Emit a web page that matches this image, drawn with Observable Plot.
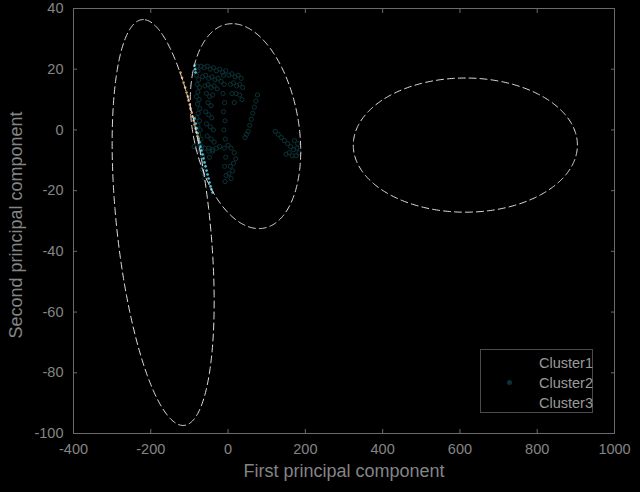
<!DOCTYPE html>
<html>
<head>
<meta charset="utf-8">
<script src="https://cdn.jsdelivr.net/npm/d3@7"></script>
<script src="https://cdn.jsdelivr.net/npm/@observablehq/plot@0.6"></script>
<style>
  html, body { margin: 0; padding: 0; background: #000; }
  #wrap { position: relative; width: 640px; height: 492px; background: #000; overflow: hidden; }
  #legend { position: absolute; left: 480px; top: 349px; width: 113px; height: 64px;
    border: 1px solid #4a4a4a; box-sizing: border-box; font-family: "Liberation Sans", Arial, sans-serif;
    font-size: 14.5px; color: #9a9a9a; }
  #legend .row { position: absolute; left: 58px; height: 20px; line-height: 20px; white-space: nowrap; }
  #legend .mk { position: absolute; width: 5px; height: 5px; border-radius: 50%; }
</style>
</head>
<body>
<div id="wrap"><div id="chart"></div>
<div id="legend"></div></div>
<script>
// ---- data ----
const xTicks = [-400, -200, 0, 200, 400, 600, 800, 1000];
const yTicks = [-100, -80, -60, -40, -20, 0, 20, 40];
const xLabel = "First principal component";
const yLabel = "Second principal component";
const legendNames = ["Cluster1", "Cluster2", "Cluster3"];
const legendColors = ["#000000", "#0c3338", "#000000"];

// ellipses (center, semi-extent in x and y, phase between x and y in degrees)
const ellCx = [-168, 45, 614];
const ellCy = [-30.5, 1.25, -5];
const ellRx = [132, 143, 290];
const ellRy = [66.85, 33.75, 22.1];
const ellPhase = [113, 104, 90];

// Cluster2 points
const c2x = [
  -80,-78,-82,-76,-80,-74,-78,-82,-75,-79,-73,-77,-81,-74,-78,-72,-76,-70,-74,-68,-72,-66,-70,-64,-67,-62,-60,
  -70,-62,-54,-46,-38,-30,-22,-14,-6,-66,-58,-50,-42,-34,-26,-18,-60,-52,-44,-36,-28,-56,-48,-40,-52,-44,
  -58,-50,-42,-56,-46,-38,-54,-44,-36,-50,-40,-48,
  -12,-10,-13,-9,-12,-8,-11,-7,-10,-6,-9,-5,-8,
  2,10,18,26,34,6,14,22,30,38,10,20,30,36,16,
  76,72,68,64,60,56,52,48,44,
  122,130,138,146,154,162,170,178,184,176,166,158,150,172,180,
  0,8,16,20,14,6,12,2,8,
  -88,-80,-70,-60,-50,-40,-30,-22
];
const c2y = [
  21,19.5,18,16.5,15,14,12.5,11,10,8.5,7,5.5,4,3,1.5,0,-1.5,-3,-4.5,-5.5,-7,-8.5,-10,-11.5,-13,-14.5,-16,
  21,20.5,21,20,20.5,19.5,20,19,19.5,17.5,18,17,17.5,16.5,17,16,14.5,15,14,14.5,13.5,12,11,11.5,9,8,
  6,5,4,2,1,0,-2,-3,-4,-6,-7,-9,
  18,15,12,9,6,3,0,-3,-6,-9,-12,-15,-17,
  18,18.5,17.5,18,17,15,15.5,14.5,15,14,12,12,11.5,10,9,
  11.5,9.5,7.5,5.5,3.5,1.5,-0.5,-1.5,-2.5,
  -0.5,-1.5,-2.5,-3.5,-4.5,-5.5,-6.5,-6,-7.5,-8.5,-8.5,-7.5,-8,-3.5,-4.5,
  -5,-6,-7.5,-9.5,-11,-12,-13.5,-14.5,-16,
  -5.5,-6,-6.5,-6,-7,-6.5,-6,-5.5
];
// orange edge points
const orX = [-123,-119,-115.3,-111,-107.5,-104,-102.3,-99,-97.1,-94,-91.9,-89,-86.8,-84,-81.6,-79,-76.4];
const orY = [18.9,17.2,15.6,14,12.3,11,9.7,8.4,7.1,5.7,4.4,3.1,1.8,0.5,-0.8,-2.1,-3.4];
// cyan edge points
const cyX = [-86.8,-85.5,-84.2,-86.8,-84,-81.6,-79,-76.4,-74,-71.3,-69,-66.1,-63.5,-60.9,-58.3,-55.7,-53,-50.5,-48,-45.4,-43,-40.2];
const cyY = [21.2,20,18.9,3.8,2.1,0.5,-1.1,-2.8,-4.1,-5.5,-6.8,-8.1,-9.4,-10.7,-12,-13.4,-14.7,-16,-17.3,-18.6,-19.6,-20.6];

// ---- build ----
const c2 = c2x.map((x, i) => ({x, y: c2y[i]}));
const orange = orX.map((x, i) => ({x, y: orY[i]}));
const cyan = cyX.map((x, i) => ({x, y: cyY[i]}));
const ellPts = [];
ellCx.forEach((cx, k) => {
  const ph = ellPhase[k] * Math.PI / 180;
  for (let j = 0; j <= 360; j++) {
    const t = j * Math.PI / 180;
    ellPts.push({id: k, x: cx + ellRx[k] * Math.cos(t + ph), y: ellCy[k] + ellRy[k] * Math.cos(t)});
  }
});

const lineCol = "#6a6a6a";
const textCol = "#858585";
const fmt = d => String(d);
const chart = Plot.plot({
  width: 640, height: 492,
  marginLeft: 73, marginRight: 26, marginTop: 8, marginBottom: 59,
  style: {background: "#000", color: textCol, fontFamily: "'Liberation Sans', Arial, sans-serif", fontSize: "14.5px"},
  x: {domain: [-400, 1000]},
  y: {domain: [-100, 40]},
  marks: [
    Plot.frame({stroke: lineCol}),
    Plot.axisX(xTicks, {anchor: "bottom", tickSize: -4, tickPadding: 14, tickFormat: fmt, stroke: lineCol, fill: textCol, label: null}),
    Plot.axisX(xTicks, {anchor: "top", tickSize: -4, tickFormat: () => "", stroke: lineCol, label: null}),
    Plot.axisY(yTicks, {anchor: "left", tickSize: -4, tickPadding: 14, tickFormat: fmt, stroke: lineCol, fill: textCol, label: null}),
    Plot.axisY(yTicks, {anchor: "right", tickSize: -4, tickFormat: () => "", stroke: lineCol, label: null}),
    Plot.text([xLabel], {frameAnchor: "bottom", dy: 43, fontSize: 18, fill: textCol}),
    Plot.text([yLabel], {frameAnchor: "left", dx: -57, dy: 4, rotate: -90, textAnchor: "middle", fontSize: 18, fill: textCol}),
    Plot.dot(c2, {x: "x", y: "y", r: 2.1, stroke: "#0c3338", strokeWidth: 1, fill: "none"}),
    Plot.dot(orange, {x: "x", y: "y", r: 1.3, fill: "#d79a52", stroke: "none"}),
    Plot.dot(cyan, {x: "x", y: "y", r: 1.3, fill: "#56c0d8", stroke: "none"}),
    Plot.line(ellPts, {x: "x", y: "y", z: "id", stroke: "#e4dcdc", strokeWidth: 1, strokeDasharray: "7,4"})
  ]
});
document.getElementById("chart").appendChild(chart);

const leg = document.getElementById("legend");
legendNames.forEach((n, i) => {
  const row = document.createElement("div");
  row.className = "row";
  row.style.top = (3 + i * 20) + "px";
  row.textContent = n;
  leg.appendChild(row);
  const mk = document.createElement("div");
  mk.className = "mk";
  mk.style.left = "26px";
  mk.style.top = (10 + i * 20) + "px";
  mk.style.background = legendColors[i];
  leg.appendChild(mk);
});
</script>
</body>
</html>
